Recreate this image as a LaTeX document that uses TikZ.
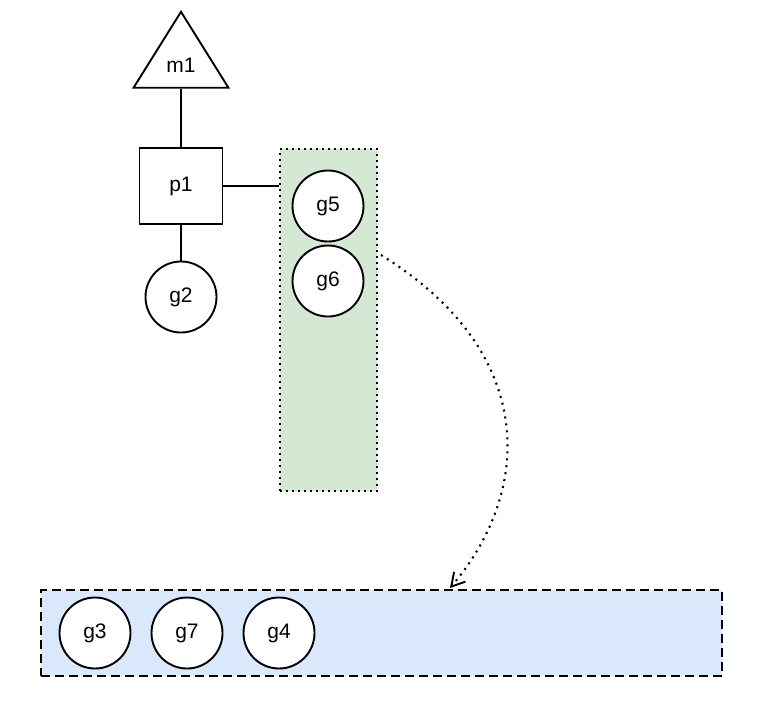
\documentclass[tikz,border=0pt]{standalone}
\usepackage{fontspec}
\setmainfont{Liberation Sans}
\usetikzlibrary{arrows.meta,shapes.geometric,calc}
\definecolor{greenfill}{HTML}{D5E8D4}
\definecolor{bluefill}{HTML}{DAE8FC}
\begin{document}
\begin{tikzpicture}[x=1pt,y=-1pt,
  txt/.style={font=\fontsize{21}{24}\selectfont},
  gor/.style={txt,circle,draw,line width=1.9pt,fill=white,minimum size=71pt,inner sep=0pt},
  conn/.style={line width=1.9pt},
  dotbox/.style={draw,line width=2.1pt,dash pattern=on 2pt off 4pt,fill=greenfill},
  dashbox/.style={draw,line width=2.1pt,dash pattern=on 9pt off 5pt,fill=bluefill}]
\useasboundingbox (0,0) rectangle (760,710);
% triangle m1
\node[draw,line width=1.9pt,isosceles triangle,isosceles triangle apex angle=64,shape border rotate=90,minimum height=76pt,inner sep=0pt,anchor=apex] (m1) at (181,10) {};
\node[txt] (m1t) at (181,65) {m1};
% p1
\node[txt,draw,line width=1.9pt,minimum width=83pt,minimum height=76pt,inner sep=0pt] (p1) at (181,186) {p1};
% g2
\node[gor] (g2) at (181,297) {g2};
% green box
\node[dotbox,minimum width=97pt,minimum height=342pt,inner sep=0pt,anchor=north west] (gbox) at (279,148) {};
\node[gor] (g5) at (328,206) {g5};
\node[gor] (g6) at (328,281) {g6};
% blue box
\node[dashbox,minimum width=681pt,minimum height=86pt,inner sep=0pt,anchor=north west] (bbox) at (40,589) {};
\node[gor] (g3) at (95,633) {g3};
\node[gor] (g7) at (187,633) {g7};
\node[gor] (g4) at (279,633) {g4};
% connectors
\draw[conn] (m1.south) -- (p1.north);
\draw[conn] (p1.east) -- (gbox.west |- p1.east);
\draw[conn] (p1.south) -- (g2.north);
\coordinate (s) at (381,255);
\coordinate (e) at (450,588);
\coordinate (c1) at (538,352);
\coordinate (c2) at (534,491);
\draw[line width=2.1pt,dash pattern=on 2pt off 5pt] (s) .. controls (c1) and (c2) .. (e);
\coordinate (pre) at ($(e)!3pt!(c2)$);
\draw[line width=1.9pt,-{Straight Barb[length=13pt,width=15pt,line width=1.9pt]}] (pre) -- (e);
\end{tikzpicture}
\end{document}
